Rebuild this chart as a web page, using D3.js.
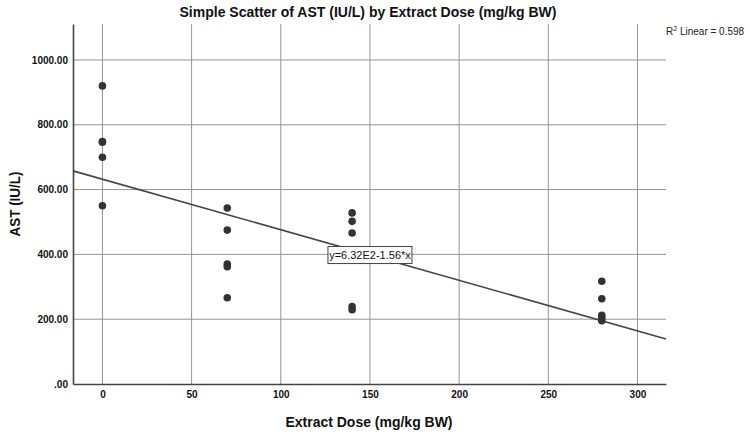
<!DOCTYPE html>
<html>
<head>
<meta charset="utf-8">
<script src="https://d3js.org/d3.v7.min.js"></script>
<style>
  body { margin: 0; background: #fff; }
  text { font-family: "Liberation Sans", Arial, sans-serif; }
</style>
</head>
<body>
<div id="chart"></div>
<script>
var svgWidth = 750;
var svgHeight = 434;

var margin = { top: 24, right: 84, bottom: 50, left: 73 };

var width = svgWidth - margin.left - margin.right;
var height = svgHeight - margin.top - margin.bottom;

// data
var doses = [0, 0, 0, 0, 0,
             70, 70, 70, 70, 70,
             140, 140, 140, 140, 140,
             280, 280, 280, 280, 280];
var astValues = [920, 748, 746, 700, 550,
                 543, 475, 370, 362, 266,
                 528, 502, 466, 239, 229,
                 317, 263, 212, 204, 195];
var xTicks = [0, 50, 100, 150, 200, 250, 300];
var yTicks = [0, 200, 400, 600, 800, 1000];
var intercept = 632;
var slope = -1.56;
var rSquared = "0.598";

var svg = d3.select("#chart")
  .append("svg")
  .attr("width", svgWidth)
  .attr("height", svgHeight);

var chartGroup = svg.append("g")
  .attr("transform", `translate(${margin.left}, ${margin.top})`);

var xScale = d3.scaleLinear().domain([-16.5, 316]).range([0, width]);
var yScale = d3.scaleLinear().domain([0, 1111]).range([height, 0]);

// grid lines
chartGroup.append("g")
  .selectAll("line.vgrid")
  .data(xTicks)
  .enter()
  .append("line")
  .attr("x1", d => xScale(d))
  .attr("x2", d => xScale(d))
  .attr("y1", 0)
  .attr("y2", height)
  .attr("stroke", "#949494")
  .attr("stroke-width", 1);

chartGroup.append("g")
  .selectAll("line.hgrid")
  .data(yTicks.filter(d => d > 0))
  .enter()
  .append("line")
  .attr("x1", 0)
  .attr("x2", width)
  .attr("y1", d => yScale(d))
  .attr("y2", d => yScale(d))
  .attr("stroke", "#949494")
  .attr("stroke-width", 1);

// axes
var bottomAxis = d3.axisBottom(xScale)
  .tickValues(xTicks)
  .tickSize(0)
  .tickPadding(7);
var leftAxis = d3.axisLeft(yScale)
  .tickValues(yTicks)
  .tickSize(0)
  .tickPadding(5)
  .tickFormat(d => d === 0 ? ".00" : d.toFixed(2));

var xAxis = chartGroup.append("g")
  .attr("transform", `translate(0, ${height})`)
  .call(bottomAxis);
var yAxis = chartGroup.append("g")
  .call(leftAxis);

[xAxis, yAxis].forEach(function(ax) {
  ax.select(".domain").attr("stroke", "#444").attr("stroke-width", 1.6);
  ax.selectAll("text")
    .attr("fill", "#111")
    .style("font-size", "10px")
    .style("font-weight", "bold")
    .style("font-family", "'Liberation Sans', Arial, sans-serif");
});

// regression line
var xd = xScale.domain();
chartGroup.append("line")
  .attr("x1", xScale(xd[0]))
  .attr("y1", yScale(intercept + slope * xd[0]))
  .attr("x2", xScale(xd[1]))
  .attr("y2", yScale(intercept + slope * xd[1]))
  .attr("stroke", "#444")
  .attr("stroke-width", 1.6);

// points
chartGroup.selectAll("circle")
  .data(doses.map((d, i) => ({ x: d, y: astValues[i] })))
  .enter()
  .append("circle")
  .attr("cx", d => xScale(d.x))
  .attr("cy", d => yScale(d.y))
  .attr("r", 3.8)
  .attr("fill", "#333");

// equation label, sits on the fit line
var eqX = 150;
var eqGroup = chartGroup.append("g")
  .attr("transform", `translate(${xScale(eqX)}, ${yScale(intercept + slope * eqX)})`);
eqGroup.append("rect")
  .attr("x", -42)
  .attr("y", -8.5)
  .attr("width", 84)
  .attr("height", 17)
  .attr("fill", "#fff")
  .attr("stroke", "#444")
  .attr("stroke-width", 1);
eqGroup.append("text")
  .attr("text-anchor", "middle")
  .attr("dy", "0.35em")
  .style("font-size", "11px")
  .attr("fill", "#111")
  .text("y=6.32E2-1.56*x");

// title
svg.append("text")
  .attr("x", 368)
  .attr("y", 17)
  .attr("text-anchor", "middle")
  .attr("textLength", 377)
  .attr("lengthAdjust", "spacingAndGlyphs")
  .style("font-size", "14px")
  .style("font-weight", "bold")
  .attr("fill", "#111")
  .text("Simple Scatter of AST (IU/L) by Extract Dose (mg/kg BW)");

// axis titles
svg.append("text")
  .attr("x", 369)
  .attr("y", 427)
  .attr("text-anchor", "middle")
  .attr("textLength", 167)
  .attr("lengthAdjust", "spacingAndGlyphs")
  .style("font-size", "15px")
  .style("font-weight", "bold")
  .attr("fill", "#111")
  .text("Extract Dose (mg/kg BW)");

svg.append("text")
  .attr("transform", "translate(20, 204) rotate(-90)")
  .attr("text-anchor", "middle")
  .attr("textLength", 65)
  .attr("lengthAdjust", "spacingAndGlyphs")
  .style("font-size", "15px")
  .style("font-weight", "bold")
  .attr("fill", "#111")
  .text("AST (IU/L)");

// R squared note
var r2 = svg.append("text")
  .attr("x", 666)
  .attr("y", 35)
  .style("font-size", "10px")
  .attr("fill", "#222");
r2.append("tspan").text("R");
r2.append("tspan").attr("dy", -4).style("font-size", "7px").text("2");
r2.append("tspan").attr("dy", 4).text(" Linear = " + rSquared);
</script>
</body>
</html>
